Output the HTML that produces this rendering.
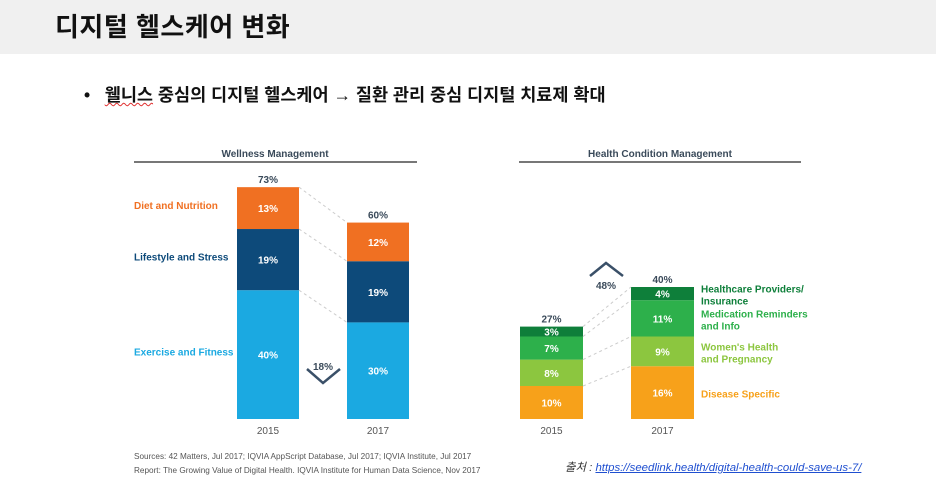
<!DOCTYPE html>
<html><head><meta charset="utf-8">
<style>
body{margin:0;width:936px;height:490px;background:#fff;overflow:hidden;position:relative;font-family:"Liberation Sans","Noto Sans CJK KR",sans-serif}
.hdr{position:absolute;left:0;top:0;width:936px;height:54px;background:#f0f0f0}
.title{position:absolute;left:55px;top:7px;font-size:26px;font-weight:bold;color:#111;letter-spacing:0.5px}
.bullet{position:absolute;left:84px;top:82px;font-size:17.5px;font-weight:bold;color:#111}
.bullet .u{text-decoration:underline wavy #e03030;text-decoration-thickness:1px}
.src{position:absolute;left:565px;top:459px;font-size:11.4px;font-style:italic;color:#333}
.src a{color:#1f4fd0;text-decoration:underline}
svg{position:absolute;left:0;top:0}
</style></head><body>
<div class="hdr"></div>
<div class="title">디지털 헬스케어 변화</div>
<div class="bullet">•&nbsp;&nbsp;&nbsp;<span class="u">웰니스</span> 중심의 디지털 헬스케어 → 질환 관리 중심 디지털 치료제 확대</div>
<div class="src">출처 : <a>https://seedlink.health/digital-health-could-save-us-7/</a></div>
<svg id="c" width="936" height="490"></svg>
<script>
const years = ["2015","2017"];
const wellCats = ["Exercise and Fitness","Lifestyle and Stress","Diet and Nutrition"];
const wellVals2015 = [40,19,13];
const wellVals2017 = [30,19,12];
const wellTotals = [73,60];
const wellChange = "18%";
const hcCats = ["Disease Specific","Women's Health|and Pregnancy","Medication Reminders|and Info","Healthcare Providers/|Insurance"];
const hcVals2015 = [10,8,7,3];
const hcVals2017 = [16,9,11,4];
const hcTotals = [27,40];
const hcChange = "48%";

const NS="http://www.w3.org/2000/svg";
const svg=document.getElementById('c');
function el(t,a,txt){const e=document.createElementNS(NS,t);for(const k in a)e.setAttribute(k,a[k]);if(txt!=null)e.textContent=txt;svg.appendChild(e);return e;}
const base=419;
const FONT='"Liberation Sans","Noto Sans CJK KR",sans-serif';

function panel(title,tx,lx1,lx2,bx,bw,scale,vals,totals,colors,cats,labelX,labelAnchor,labelColors,dy){
  let t=el('text',{x:tx,y:157,'text-anchor':'middle','font-size':10,'font-weight':'bold',fill:'#3a4a5a','font-family':FONT},title);
  
  
  let l=el('line',{x1:lx1,x2:lx2,y1:162,y2:162,stroke:'#777','stroke-width':2});
  
  
  const tops=[];
  vals.forEach((vs,bi)=>{
    let y=base; const ys=[base];
    vs.forEach((v,si)=>{
      const h=v*scale; y-=h;
      const r=el('rect',{x:bx[bi],y:y,width:bw,height:h,fill:colors[si]});
      
      
      const tx2=el('text',{x:bx[bi]+bw/2,y:y+h/2+4,'text-anchor':'middle','font-size':10,'font-weight':'bold',fill:'#fff','font-family':FONT},v+'%');
      
      
      ys.push(y);
    });
    tops.push(ys);
    const tt=el('text',{x:bx[bi]+bw/2,y:y-4,'text-anchor':'middle','font-size':10,'font-weight':'bold',fill:'#3a4a5a','font-family':FONT},totals[bi]+'%');
    
    
    const yl=el('text',{x:bx[bi]+bw/2,y:434,'text-anchor':'middle','font-size':10,fill:'#555','font-family':FONT},years[bi]);
    
    
  });
  for(let i=1;i<tops[0].length;i++){
    const d=el('line',{x1:bx[0]+bw,y1:tops[0][i],x2:bx[1],y2:tops[1][i],stroke:'#ccc','stroke-dasharray':'3,3','stroke-width':1});
    
    
  }
  cats.forEach((c,si)=>{
    const ref=labelAnchor==='end'?tops[0]:tops[1];
    const mid=(ref[si]+ref[si+1])/2+dy;
    const lines=c.split('|');
    lines.forEach((ln,li)=>{
      const y=mid+4+(li-(lines.length-1)/2)*12;
      const lt=el('text',{x:labelX,y:y,'font-size':10,'font-weight':'bold',fill:labelColors[si],'font-family':FONT},ln);
      
      
    });
  });
}
panel('Wellness Management',275,134,417,[237,347],62,3.22,[wellVals2015,wellVals2017],wellTotals,['#1ba9e1','#0d4a7a','#f07022'],wellCats,134,'end',['#1ba9e1','#0d4a7a','#f07022'],-3);
panel('Health Condition Management',660,519,801,[520,631],63,3.3,[hcVals2015,hcVals2017],hcTotals,['#f7a11a','#8cc63f','#2db04b','#0e7f3a'],hcCats,701,'start',['#f7a11a','#8cc63f','#2db04b','#0e7f3a'],1);

let v=el('polyline',{points:'307,369 323,383 340,369',fill:'none',stroke:'#3a5068','stroke-width':2.5});


let vt=el('text',{x:323,y:370,'text-anchor':'middle','font-size':10,'font-weight':'bold',fill:'#3a4a5a','font-family':FONT},wellChange);


let u=el('polyline',{points:'590,276 606,263 623,276',fill:'none',stroke:'#3a5068','stroke-width':2.5});


let ut=el('text',{x:606,y:289,'text-anchor':'middle','font-size':10,'font-weight':'bold',fill:'#3a4a5a','font-family':FONT},hcChange);


let s1=el('text',{x:134,y:459,'font-size':8.2,fill:'#555','font-family':FONT},'Sources: 42 Matters, Jul 2017; IQVIA AppScript Database, Jul 2017; IQVIA Institute, Jul 2017');


let s2=el('text',{x:134,y:473,'font-size':8.2,fill:'#555','font-family':FONT},'Report: The Growing Value of Digital Health. IQVIA Institute for Human Data Science, Nov 2017');


</script>
</body></html>
